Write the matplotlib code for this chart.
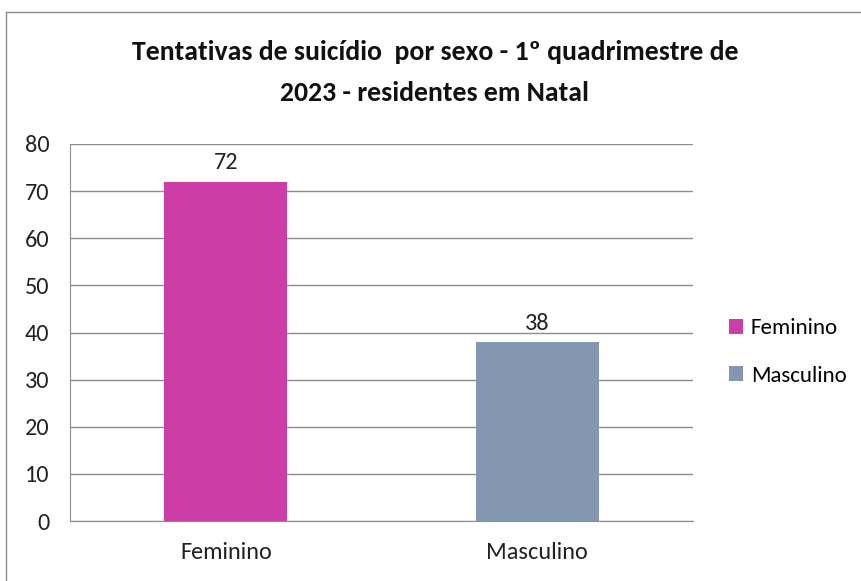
import matplotlib
matplotlib.use("Agg")
import matplotlib.pyplot as plt
from matplotlib.patches import Patch
from matplotlib import font_manager

available = {f.name for f in font_manager.fontManager.ttflist}
for fam in ['Carlito', 'Liberation Sans Narrow', 'Roboto Condensed', 'Open Sans Condensed', 'Lato']:
    if fam in available:
        chosen = fam
        break
else:
    chosen = 'DejaVu Sans'
plt.rcParams['font.family'] = [chosen, 'DejaVu Sans']

categories = ["Feminino", "Masculino"]
values = [72, 38]
colors = ["#CC3EA6", "#8497B0"]
title_lines = ["Tentativas de suicídio  por sexo - 1º quadrimestre de",
               "2023 - residentes em Natal"]
yticks = [0, 10, 20, 30, 40, 50, 60, 70, 80]

W, H = 861, 581
fig = plt.figure(figsize=(W/100, H/100), dpi=100)
ax = fig.add_axes([70/W, 1-521/H, (693-70)/W, (521-144)/H])

x = list(range(len(categories)))
ax.bar(x, values, width=0.395, color=colors, zorder=3)
for xi, v in zip(x, values):
    ax.annotate(str(v), (xi, v), xytext=(0, 6), textcoords="offset points",
                ha="center", va="bottom", fontsize=17.5, color="#222222")

ax.set_xlim(-0.5, 1.5)
ax.set_ylim(0, 80)
ax.set_yticks(yticks)
ax.set_xticks(x)
ax.set_xticklabels(categories, fontsize=17.5)
ax.tick_params(axis='y', length=0, pad=15, labelsize=17.5, labelcolor="#222222")
ax.tick_params(axis='x', length=0, pad=15, labelcolor="#222222")
ax.grid(axis='y', color="#8c8c8c", linewidth=1.0, zorder=0)
for s in ["top", "right"]:
    ax.spines[s].set_visible(False)
ax.spines["left"].set_color("#8c8c8c")
ax.spines["bottom"].set_color("#8c8c8c")

fig.text(0.505, 1-52/H, title_lines[0],
         ha="center", va="center", fontsize=20, fontweight="bold", color="#111111")
fig.text(0.505, 1-93/H, title_lines[1],
         ha="center", va="center", fontsize=20, fontweight="bold", color="#111111")

handles = [Patch(facecolor=c, label=l) for c, l in zip(colors, categories)]
fig.legend(handles=handles, loc="center left", bbox_to_anchor=(708/W, 1-352/H),
           frameon=False, fontsize=16.5, handlelength=0.62, handleheight=0.62,
           handletextpad=0.35, labelspacing=1.2)

# outer chart border
fig.add_artist(plt.Line2D([6/W, 6/W], [0, 1-12/H], transform=fig.transFigure,
                          color="#8c8c8c", linewidth=1))
fig.add_artist(plt.Line2D([6/W, 1], [1-12/H, 1-12/H], transform=fig.transFigure,
                          color="#8c8c8c", linewidth=1))

fig.savefig("out.png", dpi=100)
